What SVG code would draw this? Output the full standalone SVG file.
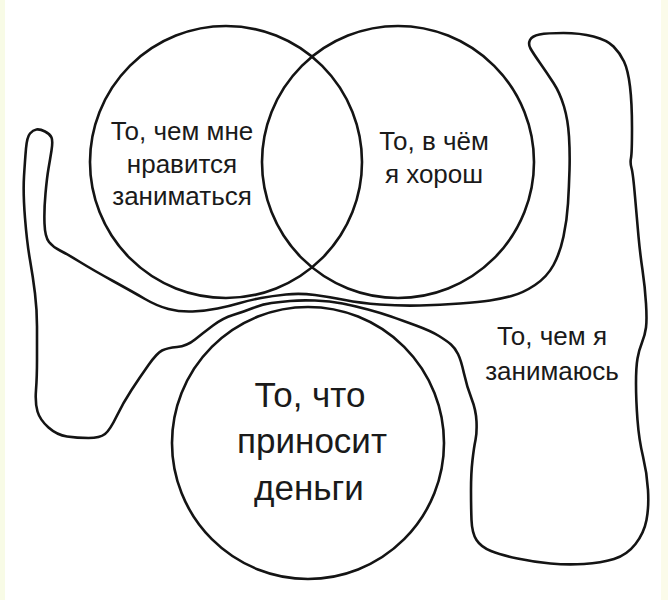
<svg xmlns="http://www.w3.org/2000/svg" width="668" height="600" viewBox="0 0 668 600">
<style>
.ln{fill:none;stroke:#141414;stroke-width:2.6;stroke-linejoin:round;stroke-linecap:round}
.t{font-family:"Liberation Sans",Arial,sans-serif;fill:#1a1a1a;text-anchor:middle}
.s{font-size:26px}
.b{font-size:35px}
</style>
<rect x="0" y="0" width="668" height="600" fill="#ffffff"/>
<rect x="0" y="0" width="5" height="600" fill="#f8fbe6"/>
<rect x="661" y="0" width="7" height="600" fill="#fbfbea"/>
<g id="blob-work">
<path class="ln" d="M36.5,129.5 Q40,129 45,131.5 Q50,134 51.5,137.5 Q53,141 51.5,150.5 Q50,160 48.5,168.5 Q47,177 45.5,193.5 Q44,210 44.5,223.5 Q45,237 49,242 Q53,247 60,250.5 Q67,254 80,262 Q93,270 113,281 Q133,292 145,299 Q157,306 168.5,309 Q180,312 192.5,311.5 Q205,311 217.5,308.5 Q230,306 240,303 Q250,300 261,298 Q272,296 286,294.5 Q300,293 315,295 Q330,297 345,300 Q360,303 380,304.5 Q400,306 420,305.5 Q440,305 460,303.5 Q480,302 490,300.5 Q500,299 511.5,296 Q523,293 535,285 Q547,277 553.5,265 Q560,253 563.5,236.5 Q567,220 568,203.5 Q569,187 569.5,170 Q570,153 569,136.5 Q568,120 564,106.5 Q560,93 553.5,83 Q547,73 540,63 Q533,53 530.5,48.5 Q528,44 530,40 Q532,36 539.5,34.5 Q547,33 563.5,33 Q580,33 593.5,36.5 Q607,40 613.5,46.5 Q620,53 624,61.5 Q628,70 630,86.5 Q632,103 632,128 Q632,153 631,158 Q630,163 631.5,168 Q633,173 635,196.5 Q637,220 638.5,236.5 Q640,253 642.5,270 Q645,287 646,303.5 Q647,320 646,327.5 Q645,335 642,342.5 Q639,350 637.5,358.5 Q636,367 636,383.5 Q636,400 637.5,420 Q639,440 643,456.5 Q647,473 648,490 Q649,507 646.5,520 Q644,533 635.5,544 Q627,555 614,559 Q601,563 584,564 Q567,565 550.5,563.5 Q534,562 517.5,558.5 Q501,555 491,551 Q481,547 476.5,540 Q472,533 471.5,520 Q471,507 471,490 Q471,473 472.5,460 Q474,447 475.5,440 Q477,433 476.5,421.5 Q476,410 471.5,398.5 Q467,387 464,373.5 Q461,360 458,354 Q455,348 451,344.5 Q447,341 439,336 Q431,331 416,325.5 Q401,320 391,316.5 Q381,313 368,309.5 Q355,306 342.5,303.5 Q330,301 315,300.5 Q300,300 290,301 Q280,302 271.5,303 Q263,304 253,308 Q243,312 233,315 Q223,318 213,325.5 Q203,333 195,339.5 Q187,346 177,347 Q167,348 162,350.5 Q157,353 148.5,365 Q140,377 131.5,390 Q123,403 116.5,416.5 Q110,430 105,434 Q100,438 88.5,438 Q77,438 67,436.5 Q57,435 48.5,427.5 Q40,420 37.5,411.5 Q35,403 36,390 Q37,377 37,360 Q37,343 37,326.5 Q37,310 35,293.5 Q33,277 30,260 Q27,243 25,218 Q23,193 24,176.5 Q25,160 26,148.5 Q27,137 30,133.5 Q33,130 36.5,129.5 Z"/>
<text class="t s" x="552" y="345">То, чем я</text>
<text class="t s" x="552" y="380">занимаюсь</text>
</g>
<g id="circle-like">
<circle class="ln" cx="226" cy="162" r="136"/>
<text class="t s" x="182" y="140">То, чем мне</text>
<text class="t s" x="182" y="173">нравится</text>
<text class="t s" x="182" y="205">заниматься</text>
</g>
<g id="circle-good">
<circle class="ln" cx="398" cy="162" r="136"/>
<text class="t s" x="434" y="150">То, в чём</text>
<text class="t s" x="434" y="183">я хорош</text>
</g>
<g id="circle-money">
<circle class="ln" cx="308" cy="443" r="136"/>
<text class="t b" x="310" y="407">То, что</text>
<text class="t b" x="312" y="453">приносит</text>
<text class="t b" x="309" y="500">деньги</text>
</g>
</svg>
